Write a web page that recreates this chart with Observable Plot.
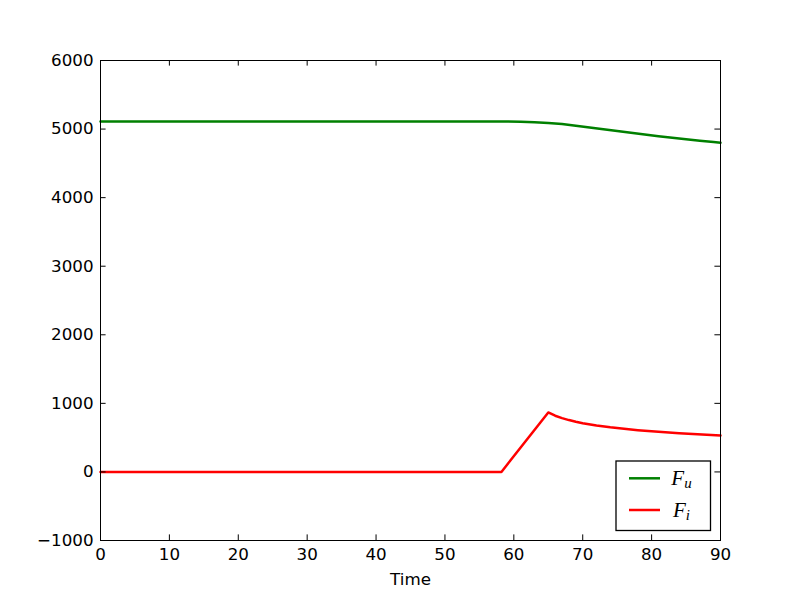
<!DOCTYPE html>
<html>
<head>
<meta charset="utf-8">
<script src="https://cdn.jsdelivr.net/npm/d3@7"></script>
<script src="https://cdn.jsdelivr.net/npm/@observablehq/plot@0.6"></script>
<style>
  html, body { margin: 0; padding: 0; background: #fff; }
  #chart svg { display: block; }
</style>
</head>
<body>
<div id="chart"></div>
<script>
// ---- data ----
const timeFu   = [0, 58, 61, 63, 65, 67, 69, 71, 73, 75, 77, 79, 81, 83, 85, 87, 89, 90];
const valuesFu = [5110, 5110, 5108, 5101, 5090, 5073, 5050, 5024, 4998, 4972, 4946, 4921, 4897, 4874, 4852, 4831, 4810, 4800];

const timeFi   = [0, 58.2, 65, 66, 67, 68, 69, 70, 72, 74, 76, 78, 80, 82, 84, 86, 88, 90];
const valuesFi = [0, 0, 867, 820, 785, 756, 732, 711, 677, 650, 628, 609, 593, 578, 564, 552, 541, 531];

const xTicks = [0, 10, 20, 30, 40, 50, 60, 70, 80, 90];
const yTicks = [-1000, 0, 1000, 2000, 3000, 4000, 5000, 6000];

const seriesNames = ["u", "i"];          // subscripts of F
const seriesColors = ["#008000", "#ff0000"];
const xLabel = "Time";

// ---- layout ----
const W = 800, H = 600;
const mL = 100, mR = 80, mT = 60, mB = 60;
const innerW = W - mL - mR, innerH = H - mT - mB;
const tickLen = 5.6;

const rows = [
  ...timeFu.map((t, i) => ({t, v: valuesFu[i], s: seriesNames[0]})),
  ...timeFi.map((t, i) => ({t, v: valuesFi[i], s: seriesNames[1]}))
];

const fmt = d => d < 0 ? "\u2212" + Math.abs(d) : String(d);

const chart = Plot.plot({
  width: W, height: H,
  marginLeft: mL, marginRight: mR, marginTop: mT, marginBottom: mB,
  style: {fontFamily: "'DejaVu Sans', sans-serif", fontSize: "16.7px", background: "#fff", color: "#000", overflow: "visible"},
  x: {domain: [0, 90]},
  y: {domain: [-1000, 6000]},
  color: {domain: seriesNames, range: seriesColors},
  marks: [
    Plot.line(rows, {x: "t", y: "v", z: "s", stroke: "s", strokeWidth: 2.5, strokeLinejoin: "round"}),
    Plot.tickY(yTicks, {y: d => d, insetRight: innerW - tickLen, stroke: "#000"}),
    Plot.tickY(yTicks, {y: d => d, insetLeft: innerW - tickLen, stroke: "#000"}),
    Plot.tickX(xTicks, {x: d => d, insetBottom: innerH - tickLen, stroke: "#000"}),
    Plot.tickX(xTicks, {x: d => d, insetTop: innerH - tickLen, stroke: "#000"}),
    Plot.axisX({ticks: xTicks, tickSize: 0, tickPadding: 7.4, tickFormat: fmt, label: null, fontSize: "16.7px"}),
    Plot.axisY({ticks: yTicks, tickSize: 0, tickPadding: 7, tickFormat: fmt, label: null, fontSize: "16.7px"}),
    Plot.text([xLabel], {frameAnchor: "bottom", text: d => d, dy: 44.3, lineAnchor: "bottom", fontSize: 16.7, fill: "#000"}),
    Plot.frame({stroke: "#000", strokeWidth: 1})
  ]
});

document.getElementById("chart").appendChild(chart);

// ---- legend (matplotlib style, lower right) ----
const svg = d3.select(chart);
const lg = svg.append("g").attr("transform", "translate(616,461)");
lg.append("rect").attr("width", 94.5).attr("height", 69.5)
  .attr("fill", "#fff").attr("stroke", "#000").attr("stroke-width", 1.3);
seriesNames.forEach((name, i) => {
  const y = 17.3 + i * 31.7;
  lg.append("line").attr("x1", 13).attr("x2", 44).attr("y1", y).attr("y2", y)
    .attr("stroke", seriesColors[i]).attr("stroke-width", 2.5);
  const t = lg.append("text").attr("x", 65.5).attr("y", y + 7)
    .attr("font-family", "'Liberation Serif', 'DejaVu Serif', serif")
    .attr("font-style", "italic").attr("font-size", 21).attr("fill", "#000");
  t.append("tspan").text("F");
  t.append("tspan").attr("dy", 3).attr("font-size", 15).text(name);
});
</script>
</body>
</html>
